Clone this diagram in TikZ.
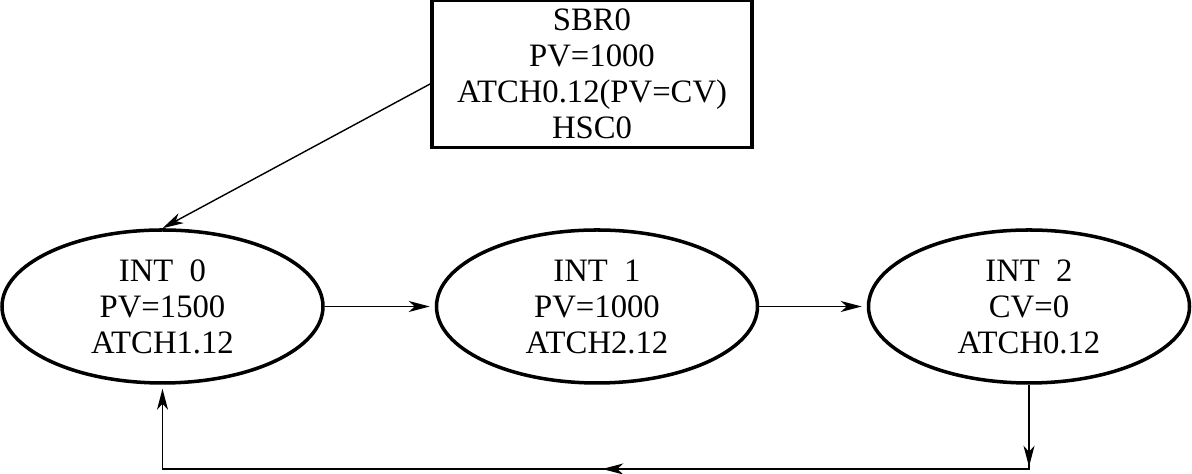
\documentclass[tikz,border=0pt]{standalone}
\usepackage{fontspec}
\setmainfont{Liberation Serif}
\usetikzlibrary{shapes.geometric,arrows.meta,decorations.markings}

\begin{document}
\begin{tikzpicture}[
  every node/.style={align=center,font=\fontsize{18.6}{20.5}\selectfont},
  intbox/.style={draw,ellipse,line width=2pt,minimum width=6.42cm,minimum height=3.06cm,inner sep=0pt},
  sbrbox/.style={draw,rectangle,line width=2.2pt,minimum width=6.4cm,minimum height=2.94cm,inner sep=0pt},
  tip/.style={line width=0.8pt,-{Stealth[length=0.42cm,width=0.22cm,inset=0.12cm]}}
]
  \useasboundingbox (0,0) rectangle (23.84,9.48);

  % Subroutine box
  \node[sbrbox] (sbr) at (11.84,8.0) {SBR0\\PV=1000\\ATCH0.12(PV=CV)\\HSC0};

  % Interrupt states
  \node[intbox] (int0) at (3.25,3.35) {INT\ \ 0\\PV=1500\\ATCH1.12};
  \node[intbox] (int1) at (11.94,3.35) {INT\ \ 1\\PV=1000\\ATCH2.12};
  \node[intbox] (int2) at (20.58,3.35) {INT\ \ 2\\CV=0\\ATCH0.12};

  % Arrows
  \coordinate (base) at (0,0.1);
  \draw[tip] ([yshift=-0.2cm]sbr.west) -- (int0.north);
  \draw[tip,shorten >=0.1cm] (int0.east) -- (int1.west);
  \draw[tip,shorten >=0.1cm] (int1.east) -- (int2.west);

  % Return path
  \draw[tip,shorten >=0.08cm,postaction={decorate},
    decoration={markings,
      mark=at position 1.64cm with {\arrow{Stealth[length=0.42cm,width=0.22cm,inset=0.12cm]}},
      mark=at position 10.22cm with {\arrow{Stealth[length=0.42cm,width=0.22cm,inset=0.12cm]}}}]
    (int2.south) -- (int2.south |- base) -- (int0.south |- base) -- (int0.south);
\end{tikzpicture}
\end{document}
